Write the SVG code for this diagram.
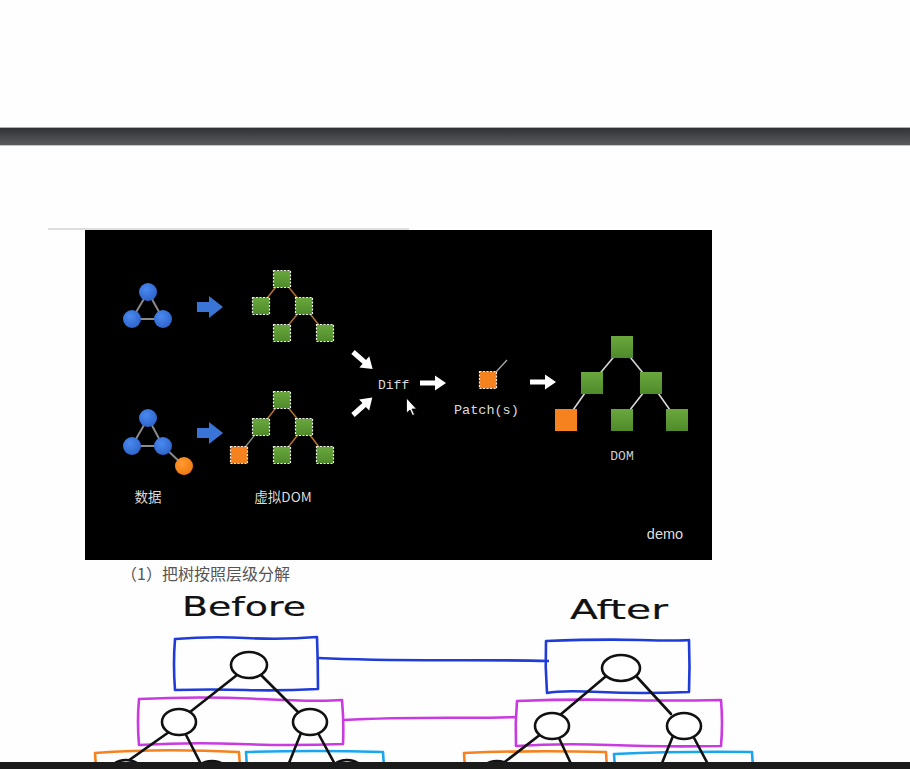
<svg xmlns="http://www.w3.org/2000/svg" width="910" height="769" viewBox="0 0 910 769">
<defs>
<linearGradient id="bar" x1="0" y1="0" x2="0" y2="1"><stop offset="0" stop-color="#303236"/><stop offset="1" stop-color="#5a5b5e"/></linearGradient>
<radialGradient id="blueG" cx="0.4" cy="0.35" r="0.7"><stop offset="0" stop-color="#4a8af0"/><stop offset="1" stop-color="#2c62c8"/></radialGradient>
<radialGradient id="oraG" cx="0.4" cy="0.35" r="0.7"><stop offset="0" stop-color="#ff9a30"/><stop offset="1" stop-color="#f07812"/></radialGradient>
<linearGradient id="greenG" x1="0" y1="0" x2="0" y2="1"><stop offset="0" stop-color="#6aa83e"/><stop offset="1" stop-color="#4f8a2a"/></linearGradient>
<path id="warrow" d="M0,-2.6 L15,-2.6 L15,-7.5 L26,0 L15,7.5 L15,2.6 L0,2.6 Z" fill="#fff"/>
<path id="barrow" d="M0,-5 L12,-5 L12,-11 L26,0 L12,11 L12,5 L0,5 Z" fill="#3a74d6"/>
</defs>
<style>
.sq{fill:url(#greenG);stroke:#eee;stroke-width:1.2;stroke-dasharray:2 1.5}
.sqo{fill:#f5821f;stroke:#eee;stroke-width:1.2;stroke-dasharray:2 1.5}
.big{fill:url(#greenG)}
.bigo{fill:#f5821f}
.bn{fill:url(#blueG)}
.on{fill:url(#oraG)}
.tl{stroke:#b5722c;stroke-width:1.5}
.gl{stroke:#8a8a8a;stroke-width:2}
.dl{stroke:#d8d8d8;stroke-width:1.6}
.mono{font-family:"Liberation Mono","DejaVu Sans Mono",monospace;fill:#dcdcdc}
.cjk{font-family:"Noto Sans CJK SC","Noto Sans",sans-serif}
.hand{font-family:"DejaVu Sans","Liberation Sans",sans-serif;fill:#111;stroke:#111;stroke-width:0.2}
.box{fill:none;stroke-width:2.6;stroke-linejoin:round;stroke-linecap:round}
.node{fill:#fff;stroke:#111;stroke-width:2.6}
.edge{stroke:#111;stroke-width:2.6;stroke-linecap:round}
</style>
<rect width="910" height="769" fill="#fefefe"/>
<!-- top bar -->
<line x1="0" y1="127.5" x2="910" y2="127.5" stroke="#b0b0b0"/>
<rect x="0" y="128" width="910" height="17" fill="url(#bar)"/>
<line x1="0" y1="145.5" x2="910" y2="145.5" stroke="#c4c4c4"/>
<line x1="48" y1="229" x2="409" y2="229" stroke="#bdbdbd" stroke-width="1.2"/>
<!-- black slide -->
<rect x="85" y="230" width="627" height="330" fill="#000"/>

<g id="connectors">
  <line class="gl" x1="148" y1="292" x2="132" y2="319"/>
  <line class="gl" x1="148" y1="292" x2="163" y2="319"/>
  <line class="gl" x1="132" y1="319" x2="163" y2="319"/>
  <line class="gl" x1="148" y1="418" x2="132" y2="446"/>
  <line class="gl" x1="148" y1="418" x2="163" y2="446"/>
  <line class="gl" x1="132" y1="446" x2="163" y2="446"/>
  <line class="gl" x1="163" y1="446" x2="184" y2="466"/>
  <line class="tl" x1="282" y1="279" x2="261" y2="306"/>
  <line class="tl" x1="282" y1="279" x2="304" y2="306"/>
  <line class="tl" x1="304" y1="306" x2="282" y2="333"/>
  <line class="tl" x1="304" y1="306" x2="325" y2="333"/>
  <line class="tl" x1="282" y1="400" x2="261" y2="427"/>
  <line class="tl" x1="282" y1="400" x2="304" y2="427"/>
  <line class="gl" style="stroke-width:1.5" x1="261" y1="427" x2="239" y2="455"/>
  <line class="tl" x1="304" y1="427" x2="282" y2="455"/>
  <line class="tl" x1="304" y1="427" x2="325" y2="455"/>
  <line x1="496" y1="372" x2="507" y2="360" stroke="#aaa" stroke-width="1.3"/>
  <line class="dl" x1="622" y1="347" x2="592" y2="383"/>
  <line class="dl" x1="622" y1="347" x2="651" y2="383"/>
  <line class="dl" x1="592" y1="383" x2="566" y2="420"/>
  <line class="dl" x1="651" y1="383" x2="622" y2="420"/>
  <line class="dl" x1="651" y1="383" x2="677" y2="420"/>
  <use href="#barrow" transform="translate(197,307)"/>
  <use href="#barrow" transform="translate(197,433)"/>
  <use href="#warrow" transform="translate(353,352) rotate(41)"/>
  <use href="#warrow" transform="translate(353,415) rotate(-42)"/>
  <use href="#warrow" transform="translate(420,383)"/>
  <use href="#warrow" transform="translate(530,382)"/>
  <path d="M318,658 C400,662 470,659 549,661" fill="none" stroke="#1f3cd8" stroke-width="2.6"/>
  <path d="M343,720 C420,716 470,719 517,717" fill="none" stroke="#c93ae0" stroke-width="2.6"/>
</g>

<g id="data1">
  <circle class="bn" cx="148" cy="292" r="9"/>
  <circle class="bn" cx="132" cy="319" r="9"/>
  <circle class="bn" cx="163" cy="319" r="9"/>
</g>
<g id="data2">
  <circle class="bn" cx="148" cy="418" r="9"/>
  <circle class="bn" cx="132" cy="446" r="9"/>
  <circle class="bn" cx="163" cy="446" r="9"/>
  <circle class="on" cx="184" cy="466" r="9"/>
  <text x="148" y="502" class="cjk" font-size="13.5" fill="#dcdcdc" text-anchor="middle">数据</text>
</g>
<g id="vdom1">
  <rect class="sq" x="273.5" y="270.5" width="17" height="17"/>
  <rect class="sq" x="252.5" y="297.5" width="17" height="17"/>
  <rect class="sq" x="295.5" y="297.5" width="17" height="17"/>
  <rect class="sq" x="273.5" y="324.5" width="17" height="17"/>
  <rect class="sq" x="316.5" y="324.5" width="17" height="17"/>
</g>
<g id="vdom2">
  <rect class="sq" x="273.5" y="391.5" width="17" height="17"/>
  <rect class="sq" x="252.5" y="418.5" width="17" height="17"/>
  <rect class="sq" x="295.5" y="418.5" width="17" height="17"/>
  <rect class="sqo" x="230.5" y="446.5" width="17" height="17"/>
  <rect class="sq" x="273.5" y="446.5" width="17" height="17"/>
  <rect class="sq" x="316.5" y="446.5" width="17" height="17"/>
  <text x="283" y="502" class="cjk" font-size="13.5" fill="#dcdcdc" text-anchor="middle">虚拟DOM</text>
</g>
<g id="diff">
  <text x="378" y="389" class="mono" font-size="13">Diff</text>
  <path d="M406.5,398 L406.5,413 L410,410 L412.5,415.5 L414.5,414.5 L412,409 L416.5,409 Z" fill="#fff" stroke="#000" stroke-width="0.8"/>
</g>
<g id="patch">
  <rect class="sqo" x="479.5" y="371.5" width="17" height="17"/>
  <text x="454" y="414" class="mono" font-size="13.5">Patch(s)</text>
</g>
<g id="dom">
  <rect class="big" x="611" y="336" width="22" height="22"/>
  <rect class="big" x="581" y="372" width="22" height="22"/>
  <rect class="big" x="640" y="372" width="22" height="22"/>
  <rect class="bigo" x="555" y="409" width="22" height="22"/>
  <rect class="big" x="611" y="409" width="22" height="22"/>
  <rect class="big" x="666" y="409" width="22" height="22"/>
  <text x="622" y="460" class="mono" font-size="13" text-anchor="middle" style="fill:#cfcfcf">DOM</text>
</g>
<text x="665" y="539" font-family="'Liberation Sans',Arial,sans-serif" font-size="14.5" fill="#dedede" text-anchor="middle">demo</text>

<text x="121" y="580" class="cjk" font-size="16" fill="#555">（1）把树按照层级分解</text>

<g id="before">
  <text x="244" y="616" class="hand" font-size="27" text-anchor="middle" textLength="124" lengthAdjust="spacingAndGlyphs">Before</text>
  <path class="box" stroke="#1f3cd8" d="M175,639 Q210,636 246,638 T317,637 Q318,664 318,689 Q280,691 246,690 T175,690 Q173,664 175,639 Z"/>
  <path class="box" stroke="#c93ae0" d="M139,699 Q200,696 260,699 T342,700 Q344,722 343,744 Q290,746 240,744 T139,745 Q137,722 139,699 Z"/>
  <path class="box" stroke="#f5821f" d="M96,768 L95,753 Q160,748 239,752 L240,768"/>
  <path class="box" stroke="#1aa6ef" d="M247,768 L246,752 Q315,750 383,752 L384,768"/>
  <line class="edge" x1="237" y1="675" x2="190" y2="712"/>
  <line class="edge" x1="261" y1="675" x2="298" y2="712"/>
  <line class="edge" x1="169" y1="732" x2="118" y2="768"/>
  <line class="edge" x1="185" y1="733" x2="203" y2="768"/>
  <line class="edge" x1="301" y1="733" x2="287" y2="768"/>
  <line class="edge" x1="318" y1="733" x2="337" y2="768"/>
  <ellipse class="node" cx="249" cy="665" rx="18" ry="13"/>
  <ellipse class="node" cx="179" cy="722" rx="17" ry="13"/>
  <ellipse class="node" cx="310" cy="722" rx="17" ry="13"/>
  <ellipse class="node" cx="126" cy="773" rx="17" ry="13"/>
  <ellipse class="node" cx="212" cy="774" rx="17" ry="13"/>
  <ellipse class="node" cx="347" cy="773" rx="17" ry="13"/>
</g>
<g id="after">
  <text x="619" y="619" class="hand" font-size="27" text-anchor="middle" textLength="98" lengthAdjust="spacingAndGlyphs">After</text>
  <path class="box" stroke="#1f3cd8" d="M546,641 Q600,639 640,640 T689,640 Q690,667 689,692 Q640,694 600,692 T547,693 Q545,667 546,641 Z"/>
  <path class="box" stroke="#c93ae0" d="M517,701 Q570,699 620,700 T721,700 Q723,723 721,746 Q660,747 610,745 T516,746 Q515,723 517,701 Z"/>
  <path class="box" stroke="#f5821f" d="M465,768 L464,753 Q530,750 606,752 L607,768"/>
  <path class="box" stroke="#1aa6ef" d="M615,768 L614,754 Q680,751 752,752 L753,768"/>
  <line class="edge" x1="605" y1="677" x2="560" y2="715"/>
  <line class="edge" x1="637" y1="677" x2="671" y2="714"/>
  <line class="edge" x1="541" y1="734" x2="497" y2="768"/>
  <line class="edge" x1="558" y1="736" x2="573" y2="768"/>
  <line class="edge" x1="673" y1="736" x2="660" y2="768"/>
  <line class="edge" x1="693" y1="736" x2="710" y2="768"/>
  <ellipse class="node" cx="621" cy="668" rx="19" ry="13"/>
  <ellipse class="node" cx="552" cy="726" rx="17" ry="13"/>
  <ellipse class="node" cx="684" cy="726" rx="17" ry="13"/>
  <ellipse class="node" cx="497" cy="774" rx="17" ry="13"/>
</g>
<rect x="0" y="762" width="910" height="7" fill="#1b1b1b"/>
</svg>
